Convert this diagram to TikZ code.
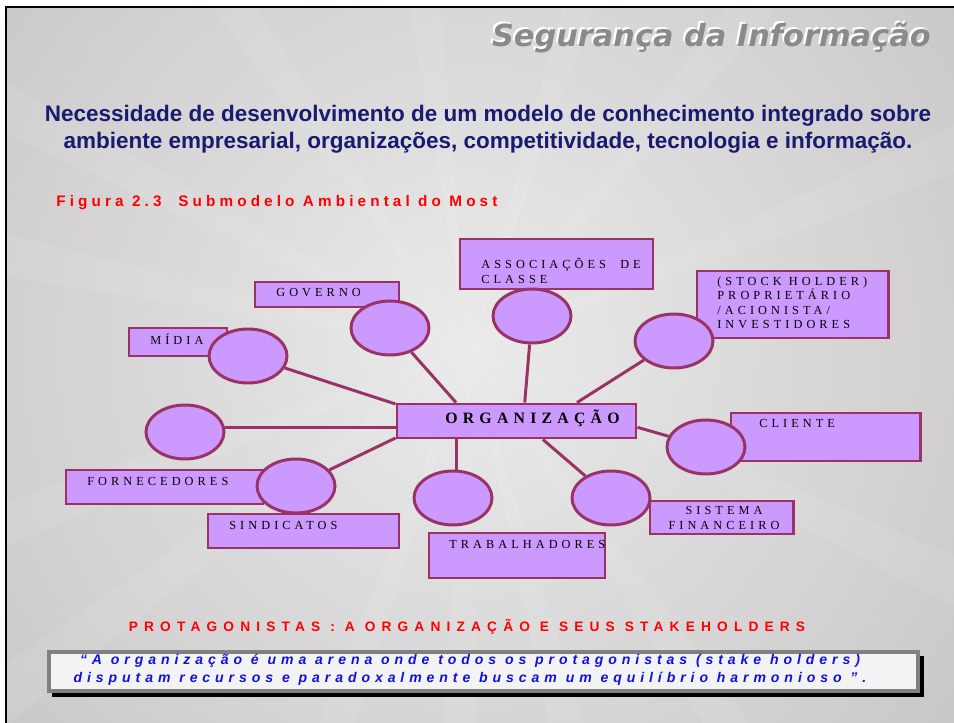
\documentclass[tikz,border=0pt]{standalone}
\usepackage{fontspec}
\setmainfont{Liberation Serif}
\newfontfamily\boxfont[LetterSpace=33]{Liberation Serif}
\newfontfamily\headfont{Liberation Sans}
\newfontfamily\figfont[LetterSpace=27]{Liberation Sans}
\newfontfamily\protfont[LetterSpace=45]{Liberation Sans}
\newfontfamily\quotefont[LetterSpace=35]{Liberation Sans}
\newfontfamily\logofont{DejaVu Sans}
\usetikzlibrary{shapes.geometric,fit}
\definecolor{lilac}{HTML}{CC99FF}
\definecolor{plum}{HTML}{993366}
\definecolor{navy}{HTML}{1A1A70}
\definecolor{slidegray}{HTML}{BAB6B8}
\definecolor{slidelight}{HTML}{EBEBEB}
\definecolor{logogray}{HTML}{8A8A8A}
\definecolor{quoteblue}{HTML}{1010E0}
\definecolor{quotefill}{HTML}{F3F3F3}
\definecolor{framegray}{HTML}{808080}

\begin{document}
\begin{tikzpicture}[x=0.02cm,y=0.02cm]
\tikzstyle{every node}+=[inner sep=0pt]
\tikzstyle{box}=[draw=plum,fill=lilac,line width=1.7pt]
\tikzstyle{bubble}=[ellipse,draw=plum,fill=lilac,line width=1.7pt,minimum width=1.56cm,minimum height=1.08cm]
\tikzstyle{link}=[plum,line width=1.7pt]
\tikzstyle{boxtext}=[font=\boxfont\fontsize{7}{8.2}\selectfont,align=left,anchor=west]
\useasboundingbox (0,0) rectangle (954,-723);
\fill [white] (0,0) rectangle (954,-723);
\begin{scope}
\clip (6,-7) rectangle (954,-723);
\fill [slidegray] (6,-7) rectangle (954,-723);
\shade [inner color=slidelight,outer color=slidegray] (470,-350) circle (900);
\foreach \a in {95,122,150,166,198,214,248,266,282,302,332,20,48,70}
  \fill [white,opacity=0.08] (470,-350) -- +(\a:900) -- +(\a+5:900) -- cycle;
\end{scope}
\draw [black,line width=1.7pt] (6,-723) -- (6,-7) -- (954,-7);
\node [font=\logofont\bfseries\itshape\fontsize{17.3}{19}\selectfont,text=white,anchor=east] (logoglow) at (929,-36) {Segurança da Informação};
\node [font=\logofont\bfseries\itshape\fontsize{17.3}{19}\selectfont,text=logogray,anchor=east] (logo) at (931,-38) {Segurança da Informação};
\node [font=\headfont\bfseries\fontsize{12.8}{15.6}\selectfont,text=navy,align=center] (title) at (488,-129) {Necessidade de desenvolvimento de um modelo de conhecimento integrado sobre\\ambiente empresarial, organizações, competitividade, tecnologia e informação.};
\node [font=\figfont\bfseries\fontsize{8.7}{10}\selectfont,text=red,anchor=west] (figura) at (56,-203) {Figura 2.3 \ Submodelo Ambiental do Most};
\node [box,fit={(255,-282) (399,-307)}] (govbox) {};
\node [bubble] (govb) at (390,-328) {};
\node [box,fit={(129,-328) (227,-356)}] (midbox) {};
\node [bubble] (midb) at (248,-356) {};
\node [box,fit={(460,-239) (653,-289)}] (assocbox) {};
\node [bubble] (assocb) at (532,-316) {};
\node [box,fit={(697,-271) (888,-338)}] (stockbox) {};
\node [bubble] (stockb) at (674,-341) {};
\node [box,fit={(397,-404) (636,-438)}] (orgbox) {};
\node [bubble] (leftb) at (185,-432) {};
\node [box,fit={(66,-470) (263,-504)}] (forbox) {};
\node [box,fit={(208,-514) (399,-548)}] (sinbox) {};
\node [bubble] (sinb) at (296,-486) {};
\node [box,fit={(429,-533) (605,-578)}] (trabbox) {};
\node [bubble] (trabb) at (453,-498) {};
\node [box,fit={(650,-501) (793,-534)}] (sisbox) {};
\node [bubble] (sisb) at (611,-498) {};
\node [box,fit={(731,-413) (920,-461)}] (clibox) {};
\node [bubble] (clib) at (706,-447) {};
\draw [link] (midb) -- (orgbox.172);
\draw [link] (govb) -- (orgbox.163);
\draw [link] (assocb) -- (orgbox.66);
\draw [link] (stockb) -- (orgbox.17);
\draw [link] (clib) -- (orgbox.-3);
\draw [link] (sisb) -- (orgbox.-35);
\draw [link] (orgbox.197) -- (orgbox.197 |- trabb.north);
\draw [link] (sinb) -- (orgbox.188);
\draw [link] (orgbox.183) -- (orgbox.183 -| leftb.east);
\node [boxtext] (govtxt) at (276,-293) {GOVERNO};
\node [boxtext] (midtxt) at (150,-339) {MÍDIA};
\node [boxtext] (assoctxt) at (481,-271) {ASSOCIAÇÕES \ DE\\CLASSE};
\node [boxtext] (stocktxt) at (717,-303) {(STOCK HOLDER)\\PROPRIETÁRIO\\/ACIONISTA/\\INVESTIDORES};
\node [boxtext,font=\boxfont\bfseries\fontsize{9}{10}\selectfont] (orgtxt) at (445,-418) {ORGANIZAÇÃO};
\node [boxtext] (clitxt) at (759,-423) {CLIENTE};
\node [boxtext,align=center,anchor=center] (sistxt) at (724,-518) {SISTEMA\\FINANCEIRO};
\node [boxtext] (trabtxt) at (449,-544) {TRABALHADORES};
\node [boxtext] (sintxt) at (229,-525) {SINDICATOS};
\node [boxtext] (fortxt) at (87,-481) {FORNECEDORES};
\node [font=\protfont\bfseries\fontsize{7.8}{9}\selectfont,text=red] (prot) at (467,-627) {PROTAGONISTAS : A ORGANIZAÇÃO E SEUS STAKEHOLDERS};
\fill [black] (52,-656) rectangle (924,-697);
\node [draw=framegray,fill=quotefill,line width=2.2pt,fit={(49,-652) (918,-691)}] (quotebox) {};
\node [font=\quotefont\bfseries\itshape\fontsize{8}{10.2}\selectfont,text=quoteblue,align=center] (quote) at (470,-670) {“A organização é uma arena onde todos os protagonistas (stake holders)\\disputam recursos e paradoxalmente buscam um equilíbrio harmonioso ”.};
\end{tikzpicture}
\end{document}
